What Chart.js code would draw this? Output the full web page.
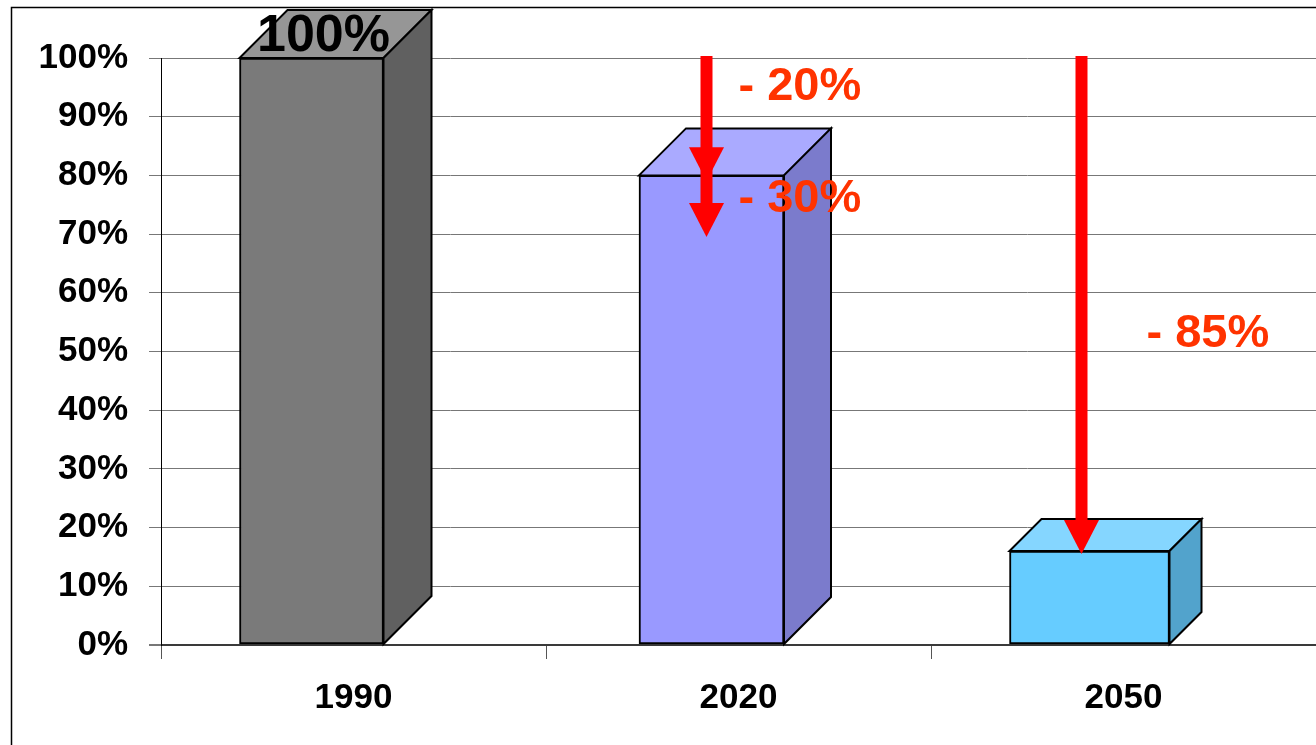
<!DOCTYPE html>
<html><head><meta charset="utf-8">
<script src="https://cdn.jsdelivr.net/npm/chart.js@4.4.1/dist/chart.umd.min.js"></script>
<style>html,body{margin:0;padding:0;background:#fff;overflow:hidden}#wrap{position:relative;width:1316px;height:745px}</style>
</head><body><div id="wrap"><canvas id="c" width="1316" height="745"></canvas></div>
<script>
// ---- data ----
const categories = ['1990', '2020', '2050'];
const values = [100, 80, 16];
const yTickValues = [0, 10, 20, 30, 40, 50, 60, 70, 80, 90, 100];
const topLabel = '100%';
const arrowCats = ['2020', '2050'];
const arrowFrom = [100, 100];
const arrowHeads = [[79, 69.5], [15.5]];
const noteCats = ['2020', '2020', '2050'];
const noteTexts = ['- 20%', '- 30%', '- 85%'];
const noteValues = [95, 76, 53];

// ---- style ----
const FONT = '"Liberation Sans", Arial, sans-serif';
const STYLE = {
  front: ['#7a7a7a', '#9999ff', '#66ccff'],
  top:   ['#969696', '#aaaaff', '#85d6ff'],
  side:  ['#606060', '#7b7bcc', '#52a3cc'],
  barWidth: [144, 145, 160],
  depth: [48, 47, 32],
  barShift: [-42, -27, -34],
  arrowDx: [-32, -42],
  noteDx: [0, 0, 23],
  shaft: 12, headW: 35, headL: 34,
  arrowColor: '#ff0000', noteColor: '#ff3300'
};

const datasets = values.map((v, i) => ({
  label: categories[i],
  data: values.map((w, j) => (j === i ? w : null)),
  backgroundColor: STYLE.front[i],
  borderColor: '#000',
  borderWidth: 2,
  borderSkipped: false,
  barThickness: STYLE.barWidth[i],
  skipNull: true
}));

const frame3d = {
  id: 'frame3d',
  beforeDraw(chart) {
    const c = chart.ctx;
    c.save();
    c.fillStyle = '#fff';
    c.fillRect(0, 0, chart.width, chart.height);
    c.strokeStyle = '#000';
    c.lineWidth = 1.5;
    c.beginPath();
    c.moveTo(11.5, chart.height);
    c.lineTo(11.5, 7.5);
    c.lineTo(chart.width, 7.5);
    c.stroke();
    c.restore();
  },
  afterDatasetUpdate(chart, args) {
    const i = args.index;
    args.meta.data.forEach((el, j) => {
      if (values[j] !== null && j === i) el.x += STYLE.barShift[i];
    });
  },
  afterDatasetsDraw(chart) {
    const c = chart.ctx;
    const xs = chart.scales.x, ys = chart.scales.y;
    c.save();
    c.lineJoin = 'miter';
    c.strokeStyle = '#000';
    c.lineWidth = 2;
    values.forEach((v, i) => {
      const el = chart.getDatasetMeta(i).data[i];
      const d = STYLE.depth[i];
      const x0 = el.x - el.width / 2, x1 = el.x + el.width / 2;
      const top = el.y, base = el.base;
      // top face
      c.beginPath();
      c.moveTo(x0, top); c.lineTo(x0 + d, top - d); c.lineTo(x1 + d, top - d); c.lineTo(x1, top); c.closePath();
      c.fillStyle = STYLE.top[i]; c.fill(); c.stroke();
      // side face
      c.beginPath();
      c.moveTo(x1, top); c.lineTo(x1 + d, top - d); c.lineTo(x1 + d, base - d); c.lineTo(x1, base); c.closePath();
      c.fillStyle = STYLE.side[i]; c.fill(); c.stroke();
    });
    // top label on first bar
    const el0 = chart.getDatasetMeta(0).data[0];
    c.fillStyle = '#000';
    c.font = 'bold 52px ' + FONT;
    c.textAlign = 'center';
    c.textBaseline = 'alphabetic';
    c.fillText(topLabel, el0.x + STYLE.depth[0] / 4, el0.y - 7);
    // arrows
    arrowCats.forEach((cat, k) => {
      const x = xs.getPixelForValue(categories.indexOf(cat)) + STYLE.arrowDx[k];
      const heads = arrowHeads[k];
      const yFrom = ys.getPixelForValue(arrowFrom[k]);
      const lastTip = ys.getPixelForValue(Math.min(...heads));
      c.fillStyle = STYLE.arrowColor;
      c.fillRect(x - STYLE.shaft / 2, yFrom - 2, STYLE.shaft, lastTip - STYLE.headL - yFrom + 4);
      heads.forEach(h => {
        const tip = ys.getPixelForValue(h);
        c.beginPath();
        c.moveTo(x - STYLE.headW / 2, tip - STYLE.headL);
        c.lineTo(x + STYLE.headW / 2, tip - STYLE.headL);
        c.lineTo(x, tip);
        c.closePath();
        c.fill();
      });
    });
    // notes
    c.font = 'bold 47px ' + FONT;
    c.textAlign = 'left';
    c.textBaseline = 'middle';
    c.fillStyle = STYLE.noteColor;
    noteTexts.forEach((t, k) => {
      const x = xs.getPixelForValue(categories.indexOf(noteCats[k])) + STYLE.noteDx[k];
      c.fillText(t, x, ys.getPixelForValue(noteValues[k]));
    });
    c.restore();
  }
};

new Chart(document.getElementById('c'), {
  type: 'bar',
  data: { labels: categories, datasets },
  plugins: [frame3d],
  options: {
    responsive: false,
    animation: false,
    events: [],
    layout: { padding: { left: 0, top: 58, right: 0, bottom: 0 } },
    plugins: { legend: { display: false }, tooltip: { enabled: false } },
    scales: {
      x: {
        offset: true,
        grid: { drawOnChartArea: false, drawTicks: true, tickLength: 14, color: '#555', offset: true },
        border: { display: false },
        ticks: { color: '#000', font: { family: FONT, size: 35, weight: 'bold' }, padding: 18, maxRotation: 0 },
        afterFit(s) { s.height = 100; }
      },
      y: {
        min: 0, max: 100,
        afterBuildTicks(s) { s.ticks = yTickValues.map(v => ({ value: v })); },
        grid: {
          color: ctx => (ctx.tick && ctx.tick.value === 0 ? '#3a3a3a' : '#777'),
          lineWidth: ctx => (ctx.tick && ctx.tick.value === 0 ? 2 : 1),
          tickColor: '#777', tickLength: 12, drawTicks: true
        },
        border: { display: true, color: '#000', width: 1 },
        ticks: { color: '#000', font: { family: FONT, size: 35, weight: 'bold' }, padding: 21, callback: v => v + '%' },
        afterFit(s) { s.width = 161; }
      }
    }
  }
});
</script>
</body></html>
